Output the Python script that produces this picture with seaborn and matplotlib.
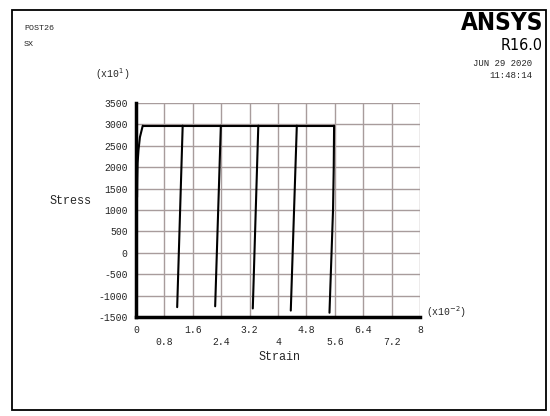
import matplotlib
matplotlib.use("Agg")
import matplotlib.pyplot as plt
from matplotlib.patches import Rectangle
import seaborn as sns
import pandas as pd

# ---- data (strain in x10^-2, stress in x10^1) ----
seg_ids = [0, 0, 0, 0, 0, 0,
           1, 1,
           2, 2,
           3, 3,
           4, 4,
           5, 5,
           6, 6, 6, 6, 6]
strain = [0.03, 0.035, 0.045, 0.07, 0.11, 0.19,
          0.19, 5.58,
          1.16, 1.315,
          2.23, 2.39,
          3.29, 3.445,
          4.36, 4.53,
          5.45, 5.50, 5.55, 5.57, 5.58]
stress = [1300, 1700, 2100, 2400, 2700, 2970,
          2970, 2970,
          -1270, 2970,
          -1250, 2970,
          -1300, 2970,
          -1350, 2970,
          -1400, -200, 1000, 2000, 2970]

x_ticks = [0, 0.8, 1.6, 2.4, 3.2, 4.0, 4.8, 5.6, 6.4, 7.2, 8.0]
x_tick_labels = ["0", "\n0.8", "1.6", "\n2.4", "3.2", "\n4", "4.8", "\n5.6", "6.4", "\n7.2", "8"]
y_ticks = [-1500, -1000, -500, 0, 500, 1000, 1500, 2000, 2500, 3000, 3500]

df = pd.DataFrame({"seg": seg_ids, "strain": strain, "stress": stress})

sns.set_style("white")
plt.rcParams["font.family"] = ["Liberation Mono", "DejaVu Sans Mono"]

W, H = 550, 416
fig = plt.figure(figsize=(W / 100, H / 100), dpi=100)
ax = fig.add_axes([136 / W, 1 - 317 / H, (420 - 136) / W, (317 - 103) / H])

sns.lineplot(data=df, x="strain", y="stress", units="seg", estimator=None,
             sort=False, color="black", linewidth=1.5, ax=ax, zorder=3)

ax.set_xlim(0, 8)
ax.set_ylim(-1500, 3500)
ax.set_xticks(x_ticks)
ax.set_xticklabels(x_tick_labels, fontsize=7)
ax.set_yticks(y_ticks)
ax.set_yticklabels([str(v) for v in y_ticks], fontsize=7)
ax.tick_params(length=0, pad=6)
ax.grid(True, color="#a89c9c", linewidth=1.0)
ax.set_axisbelow(True)
for s in ["top", "right"]:
    ax.spines[s].set_visible(False)
for s in ["left", "bottom"]:
    ax.spines[s].set_color("black")
    ax.spines[s].set_linewidth(2.5)
    ax.spines[s].set_zorder(4)
ax.set_xlabel("")
ax.set_ylabel("")

# axis titles
fig.text(50 / W, 1 - 201 / H, "Stress", fontsize=8.5, ha="left", va="center")
fig.text(280 / W, 1 - 357 / H, "Strain", fontsize=8.5, ha="center", va="center")
fig.text(95 / W, 1 - 74 / H, "(x10$^1$)", fontsize=7, ha="left", va="center")
fig.text(426 / W, 1 - 312 / H, "(x10$^{-2}$)", fontsize=7, ha="left", va="center")

# header texts
fig.text(24 / W, 1 - 28 / H, "POST26", fontsize=6, ha="left", va="center")
fig.text(24 / W, 1 - 45 / H, "SX", fontsize=6, ha="left", va="center")
fig.text(543 / W, 1 - 23 / H, "ANSYS", fontsize=17.5, fontweight="bold",
         fontstretch="condensed", color="black",
         family=["DejaVu Sans"], ha="right", va="center")
fig.text(543 / W, 1 - 45 / H, "R16.0", fontsize=11.5, fontstretch="condensed",
         color="black", family=["DejaVu Sans"], ha="right", va="center")
fig.text(532 / W, 1 - 63 / H, "JUN 29 2020", fontsize=6.5, ha="right", va="center")
fig.text(532 / W, 1 - 75 / H, "11:48:14", fontsize=6.5, ha="right", va="center")

# outer frame
fig.patches.append(Rectangle((12 / W, 1 - 410 / H), (546 - 12) / W, (410 - 10) / H,
                             transform=fig.transFigure, fill=False,
                             edgecolor="black", linewidth=1.3))

fig.savefig("out.png", dpi=100)
